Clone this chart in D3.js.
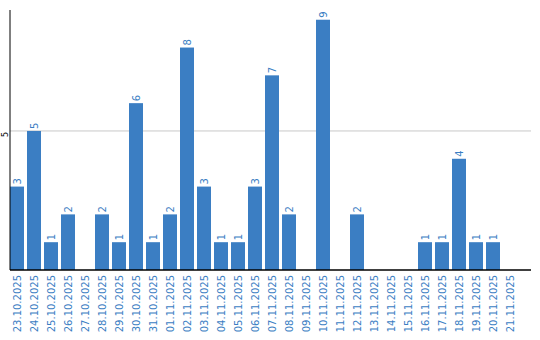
<!DOCTYPE html>
<html>
<head>
<meta charset="utf-8">
<script src="https://cdn.jsdelivr.net/npm/d3@7"></script>
<style>
  body { margin: 0; background: #fff; }
  text { font-family: "DejaVu Sans", sans-serif; }
</style>
</head>
<body>
<script>
const days = ["23.10.2025","24.10.2025","25.10.2025","26.10.2025","27.10.2025","28.10.2025","29.10.2025","30.10.2025","31.10.2025","01.11.2025","02.11.2025","03.11.2025","04.11.2025","05.11.2025","06.11.2025","07.11.2025","08.11.2025","09.11.2025","10.11.2025","11.11.2025","12.11.2025","13.11.2025","14.11.2025","15.11.2025","16.11.2025","17.11.2025","18.11.2025","19.11.2025","20.11.2025","21.11.2025"]
const counts = [3,5,1,2,0,2,1,6,1,2,8,3,1,1,3,7,2,0,9,0,2,0,0,0,1,1,4,1,1,0]
const yTicks = [5]

const width = 540, height = 340
const m = {top:10, left:10, bottom:70, right:9}
const barColor = "#3b7ec3"

const svg = d3.select("body").append("svg")
  .attr("width", width).attr("height", height)

const x = d3.scaleBand().domain(days)
  .range([m.left, m.left + days.length*17 - 3])
  .paddingInner(3/17).paddingOuter(0)
const y = d3.scaleLinear().domain([0, 9.35]).range([height - m.bottom, m.top])

// gridline
svg.selectAll(".grid").data(yTicks).enter().append("line")
  .attr("x1", m.left).attr("x2", width - m.right)
  .attr("y1", d => y(d)).attr("y2", d => y(d))
  .attr("stroke", "#c8c8c8").attr("stroke-width", 1)

svg.selectAll(".bar").data(days.map((d,i)=>({day:d, v:counts[i]})).filter(d=>d.v>0))
  .enter().append("rect")
  .attr("x", d => x(d.day)).attr("width", x.bandwidth())
  .attr("y", d => y(d.v)).attr("height", d => y(0) - y(d.v))
  .attr("fill", barColor)

svg.selectAll(".lbl").data(days.map((d,i)=>({day:d, v:counts[i]})).filter(d=>d.v>0))
  .enter().append("text")
  .attr("transform", d => `translate(${x(d.day) + x.bandwidth()/2},${y(d.v) - 2}) rotate(-90)`)
  .attr("dy", "0.35em")
  .attr("font-size", 10)
  .attr("fill", barColor)
  .text(d => d.v)

// y axis
const yAxis = svg.append("g").attr("transform", `translate(${m.left},0)`)
  .call(d3.axisLeft(y).tickValues(yTicks).tickSize(0).tickPadding(3))
yAxis.select(".domain").attr("stroke", "#000").attr("d", `M0,${m.top}V${height - m.bottom}`)
yAxis.selectAll(".tick text")
  .attr("font-size", 8).attr("fill", "#000")
  .attr("transform", "rotate(-90)")
  .attr("text-anchor", "middle")
  .attr("x", -3).attr("y", -2).attr("dy", 0)

// x axis
const xAxis = svg.append("g").attr("transform", `translate(0,${height - m.bottom})`)
  .call(d3.axisBottom(x).tickSize(0).tickPadding(0))
xAxis.select(".domain").attr("stroke", "#000").attr("stroke-width", 1.5)
  .attr("d", `M${m.left},0H${width - m.right}`)
xAxis.selectAll(".tick text")
  .attr("font-size", 10).attr("fill", barColor)
  .attr("transform", "rotate(-90)")
  .attr("text-anchor", "end")
  .attr("x", -5).attr("y", 0).attr("dy", "0.35em")
</script>
</body>
</html>
